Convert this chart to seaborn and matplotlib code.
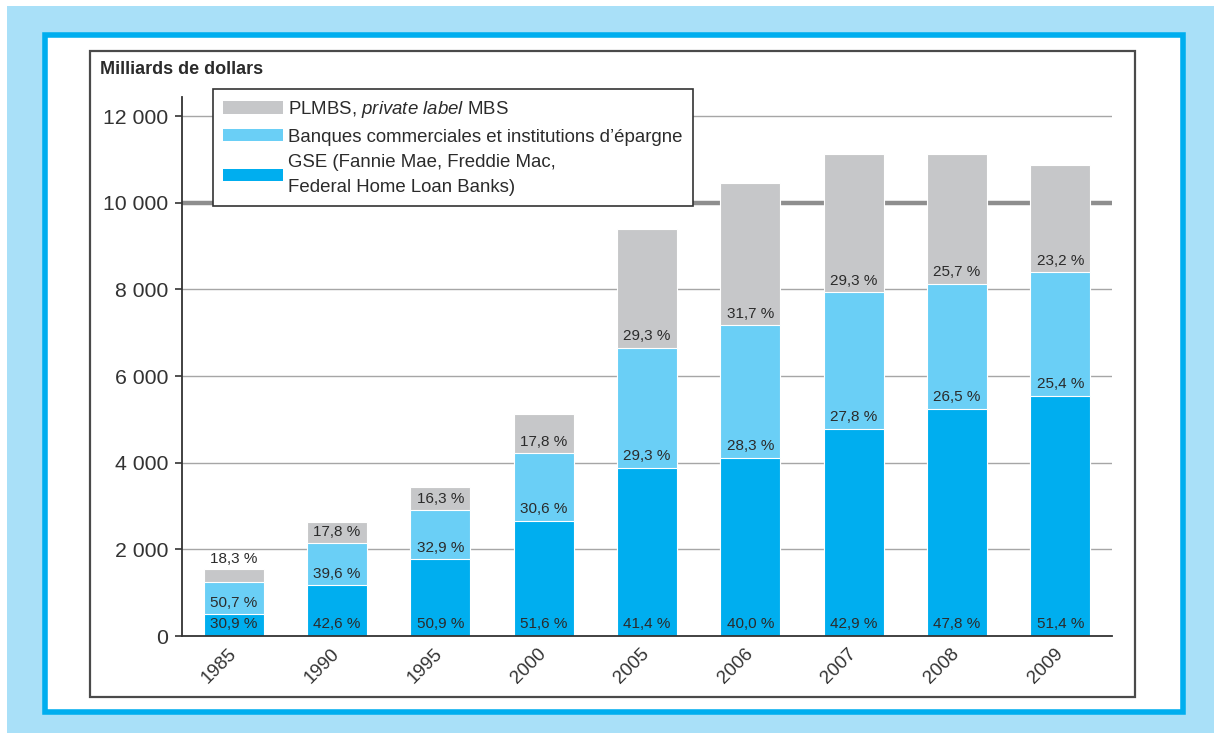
import numpy as np
import pandas as pd
import matplotlib
matplotlib.use('Agg')
import matplotlib.pyplot as plt
import seaborn as sns
from matplotlib.patches import Patch, Rectangle

sns.set_style('white')
plt.rcParams['font.family'] = ['Liberation Sans', 'DejaVu Sans']
plt.rcParams['mathtext.fontset'] = 'custom'
plt.rcParams['mathtext.rm'] = 'Liberation Sans'
plt.rcParams['mathtext.it'] = 'Liberation Sans:italic'

# Données (milliards de dollars)
annees = ['1985', '1990', '1995', '2000', '2005', '2006', '2007', '2008', '2009']
gse = [500, 1170, 1770, 2660, 3880, 4110, 4780, 5240, 5550]
banques = [755, 975, 1130, 1560, 2770, 3060, 3150, 2895, 2845]
plmbs = [285, 495, 530, 900, 2745, 3290, 3200, 2995, 2465]

pct_gse = ['30,9 %', '42,6 %', '50,9 %', '51,6 %', '41,4 %', '40,0 %', '42,9 %', '47,8 %', '51,4 %']
pct_banques = ['50,7 %', '39,6 %', '32,9 %', '30,6 %', '29,3 %', '28,3 %', '27,8 %', '26,5 %', '25,4 %']
pct_plmbs = ['18,3 %', '17,8 %', '16,3 %', '17,8 %', '29,3 %', '31,7 %', '29,3 %', '25,7 %', '23,2 %']

yticks = [0, 2000, 4000, 6000, 8000, 10000, 12000]
ytick_labels = ['0', '2 000', '4 000', '6 000', '8 000', '10 000', '12 000']

noms_series = ['PLMBS, $\\it{private\\ label}$ MBS',
               'Banques commerciales et institutions d\u2019\u00e9pargne',
               'GSE (Fannie Mae, Freddie Mac,\nFederal Home Loan Banks)']

COL_GSE = '#00aeef'
COL_BANQUES = '#6acff6'
COL_PLMBS = '#c6c7c9'

df = pd.DataFrame({'annee': annees, 'gse': gse, 'banques': banques, 'plmbs': plmbs})
df['cum_banques'] = df['gse'] + df['banques']
df['total'] = df['cum_banques'] + df['plmbs']

W, H = 1214, 733
fig = plt.figure(figsize=(W / 100, H / 100), dpi=100, facecolor='white')

# Cadres décoratifs
fig.patches.append(Rectangle((7 / W, 0), 1 - 7 / W, 1 - 6 / H, transform=fig.transFigure,
                             facecolor='#a9e0f8', edgecolor='none', zorder=-3))
fig.patches.append(Rectangle((45 / W, 1 - 712 / H), (1183 - 45) / W, (712 - 35) / H,
                             transform=fig.transFigure, facecolor='white',
                             edgecolor='#00aeef', linewidth=4, zorder=-2))
fig.patches.append(Rectangle((90 / W, 1 - 697 / H), (1135 - 90) / W, (697 - 51) / H,
                             transform=fig.transFigure, facecolor='none',
                             edgecolor='#4a4a4a', linewidth=1.6, zorder=-1))

ax = fig.add_axes([182 / W, 1 - 636 / H, (1112 - 182) / W, (636 - 97) / H])
ax.patch.set_alpha(0)

# Barres empilées
largeur = 0.58
sns.barplot(data=df, x='annee', y='total', color=COL_PLMBS, saturation=1,
            width=largeur, edgecolor='white', linewidth=0.8, ax=ax)
sns.barplot(data=df, x='annee', y='cum_banques', color=COL_BANQUES, saturation=1,
            width=largeur, edgecolor='white', linewidth=0.8, ax=ax)
sns.barplot(data=df, x='annee', y='gse', color=COL_GSE, saturation=1,
            width=largeur, edgecolor='white', linewidth=0.8, ax=ax)

# Quadrillage
for v in yticks[1:]:
    if v == 10000:
        ax.axhline(v, color='#8e8e8e', linewidth=3.2, zorder=0)
    else:
        ax.axhline(v, color='#a6a6a6', linewidth=1.0, zorder=0)

# Étiquettes de pourcentage
for i in range(len(annees)):
    bas = [0, df['gse'][i], df['cum_banques'][i]]
    txt = [pct_gse[i], pct_banques[i], pct_plmbs[i]]
    for k in range(3):
        y0, dy = bas[k], 8.3
        if k == 2 and plmbs[i] < 400:
            y0, dy = df['total'][i], 7.5
        ax.annotate(txt[k], xy=(i, y0), xytext=(0, dy), textcoords='offset points',
                    ha='center', va='center', fontsize=11, color='#2b2b2b')

ax.set_xlim(-0.5, len(annees) - 0.5)
ax.set_ylim(0, 12440)
ax.set_xlabel('')
ax.set_ylabel('')
ax.set_yticks(yticks)
ax.set_yticklabels(ytick_labels, fontsize=15.3, color='#333333')
ax.set_xticks(range(len(annees)))
ax.set_xticklabels(annees, rotation=45, ha='right', va='center', rotation_mode='anchor',
                   fontsize=13.5, color='#333333')
ax.tick_params(axis='x', which='major', length=0, pad=11)
ax.set_xticks(np.arange(-0.5, len(annees) - 1, 1.0), minor=True)
ax.tick_params(axis='x', which='minor', length=6, width=1.2, color='#333333', direction='out')
ax.tick_params(axis='y', length=5, width=1.2, color='#333333', direction='out', pad=5, left=True)

for s in ['top', 'right']:
    ax.spines[s].set_visible(False)
for s in ['left', 'bottom']:
    ax.spines[s].set_color('#333333')
    ax.spines[s].set_linewidth(1.3)
    ax.spines[s].set_zorder(3)

fig.text(100 / W, 1 - 70 / H, 'Milliards de dollars', fontsize=13, fontweight='bold',
         color='#2b2b2b', ha='left', va='center')

poignees = [Patch(facecolor=COL_PLMBS, edgecolor='none'),
            Patch(facecolor=COL_BANQUES, edgecolor='none'),
            Patch(facecolor=COL_GSE, edgecolor='none')]
leg = ax.legend(poignees, noms_series, loc='upper left',
                bbox_to_anchor=(213 / W, 1 - 89 / H), bbox_transform=fig.transFigure,
                fontsize=13.4, frameon=True, fancybox=False, framealpha=1,
                edgecolor='#333333', handlelength=3.2, handleheight=0.65,
                handletextpad=0.3, labelspacing=0.46, borderpad=0.55, borderaxespad=0)
leg.get_frame().set_linewidth(1.2)
for t in leg.get_texts():
    t.set_color('#2b2b2b')
    t.set_linespacing(1.55)
leg.set_zorder(5)

fig.savefig('out.png', dpi=100)
